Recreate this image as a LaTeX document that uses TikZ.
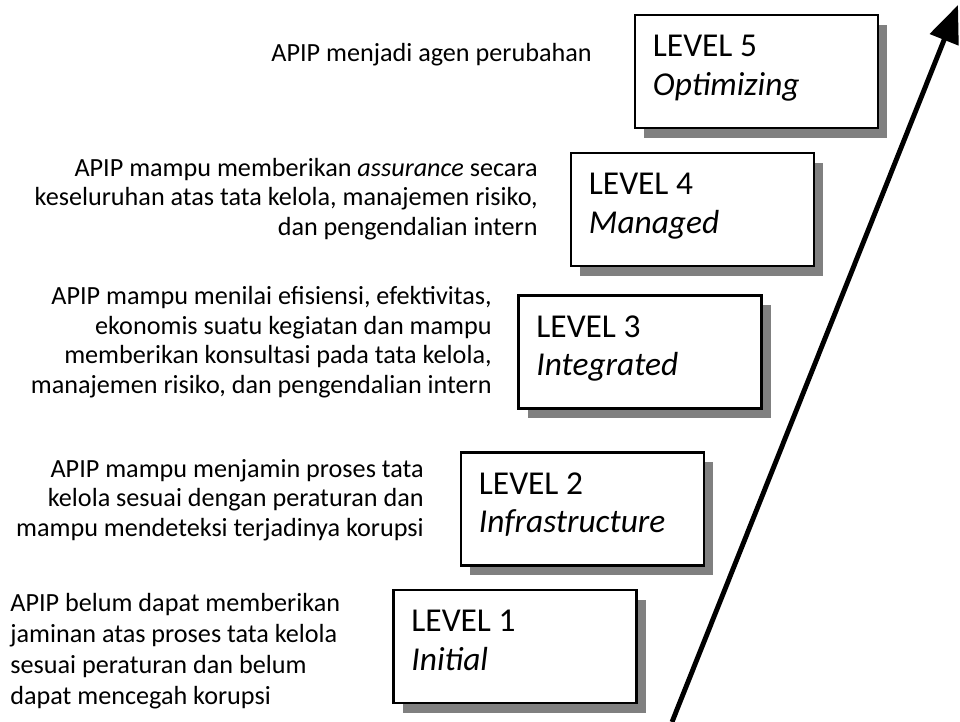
\documentclass[tikz,border=0pt]{standalone}
\usepackage{fontspec}
\setmainfont{Carlito}
\usepackage{xcolor}
\usepackage{tikz}
\usetikzlibrary{arrows.meta,positioning,shadows}

\begin{document}
\begin{tikzpicture}[every node/.style={inner sep=0pt}]
\tikzset{
  lvbox/.style={draw, line width=1.6pt, fill=white, minimum width=4.86cm, minimum height=2.26cm,
    drop shadow={shadow xshift=0.18cm, shadow yshift=-0.2cm, fill=black!50, opacity=1}},
  lvtext/.style={align=left, font=\fontsize{19}{22}\selectfont},
  desc/.style={align=right, anchor=east, font=\fontsize{14.9}{16.8}\selectfont},
  descl/.style={align=left, anchor=west, font=\fontsize{14.9}{17.6}\selectfont}
}
\useasboundingbox (0,0) rectangle (19.2,14.44);
\node[lvbox] (lv5) at (15.13,13.01) {};
\node[lvbox] (lv4) at (13.85,10.25) {};
\node[lvbox] (lv3) at (12.80,7.40) {};
\node[lvbox] (lv2) at (11.65,4.26) {};
\node[lvbox] (lv1) at (10.30,1.51) {};
\node[lvtext, below right=0.42cm and 0.38cm of lv5.north west] (t5) {LEVEL 5\\\textit{Optimizing}};
\node[lvtext, below right=0.42cm and 0.38cm of lv4.north west] (t4) {LEVEL 4\\\textit{Managed}};
\node[lvtext, below right=0.42cm and 0.38cm of lv3.north west] (t3) {LEVEL 3\\\textit{Integrated}};
\node[lvtext, below right=0.42cm and 0.38cm of lv2.north west] (t2) {LEVEL 2\\\textit{Infrastructure}};
\node[lvtext, below right=0.42cm and 0.38cm of lv1.north west] (t1) {LEVEL 1\\\textit{Initial}};
\node[desc] (d5) at (11.84,13.34) {APIP menjadi agen perubahan};
\node[desc] (d4) at (10.76,10.46) {APIP mampu memberikan \textit{assurance} secara\\keseluruhan atas tata kelola, manajemen risiko,\\dan pengendalian intern};
\node[desc] (d3) at (9.84,7.60) {APIP mampu menilai efisiensi, efektivitas,\\ekonomis suatu kegiatan dan mampu\\memberikan konsultasi pada tata kelola,\\manajemen risiko, dan pengendalian intern};
\node[desc] (d2) at (8.48,4.44) {APIP mampu menjamin proses tata\\kelola sesuai dengan peraturan dan\\mampu mendeteksi terjadinya korupsi};
\node[descl] (d1) at (0.2,1.42) {APIP belum dapat memberikan\\jaminan atas proses tata kelola\\sesuai peraturan dan belum\\dapat mencegah korupsi};
\coordinate (abase) at (13.44,0);
\coordinate (atip) at (19.16,14.34);
\draw[line width=2.8pt, -{Triangle[length=0.75cm, width=0.6cm]}] (abase) -- (atip);
\end{tikzpicture}
\end{document}
